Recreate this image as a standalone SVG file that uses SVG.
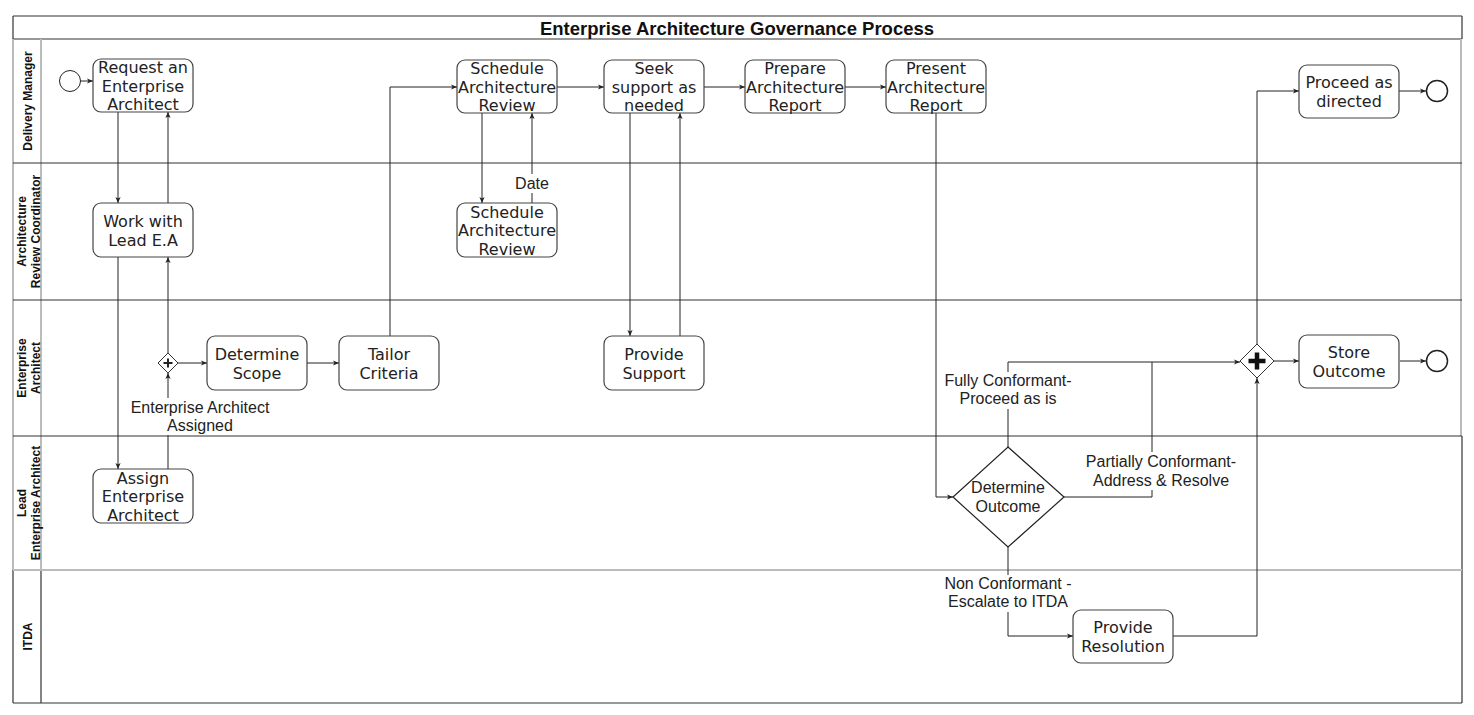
<svg xmlns="http://www.w3.org/2000/svg" width="1474" height="715" viewBox="0 0 1474 715">
<style>
.box{fill:#fff;stroke:#444;stroke-width:1.2}
.t{font-family:"DejaVu Sans",sans-serif;font-size:16px;fill:#222;text-anchor:middle}
.l{font-family:"Liberation Sans",Arial,sans-serif;font-size:16px;fill:#222;text-anchor:middle}
.lane{font-family:"Liberation Sans",Arial,sans-serif;font-weight:bold;font-size:12px;text-anchor:middle;fill:#111}
.title{font-family:"Liberation Sans",Arial,sans-serif;font-weight:bold;font-size:18.5px;text-anchor:middle;fill:#111}
.c{fill:none;stroke:#222;stroke-width:1}
.bg{fill:#fff;stroke:none}
.ln{stroke:#333;stroke-width:1.2;fill:none}
.lg{stroke:#bbb;stroke-width:2;fill:none}
.ev{fill:#fff;stroke:#222;stroke-width:1.5}
.gw{fill:#fff;stroke:#333;stroke-width:1}
</style>
<defs>
<marker id="a" markerUnits="userSpaceOnUse" markerWidth="8" markerHeight="8" refX="6" refY="3" orient="auto">
<path d="M0,0.4 L6,3 L0,5.6 L1.5,3 z" fill="#222"/>
</marker>
</defs>
<rect width="1474" height="715" fill="#fff"/>
<g id="pool">
<line class="ln" x1="13" y1="16" x2="1462" y2="16"/>
<line class="ln" x1="13" y1="39" x2="1462" y2="39"/>
<line class="ln" x1="13" y1="16" x2="13" y2="39"/>
<line class="ln" x1="1462" y1="16" x2="1462" y2="39"/>
<line class="lg" x1="13" y1="39" x2="13" y2="570"/>
<line class="ln" x1="13" y1="570" x2="13" y2="703"/>
<line class="lg" x1="41" y1="39" x2="41" y2="570"/>
<line class="ln" x1="41" y1="570" x2="41" y2="703"/>
<line class="lg" x1="1461" y1="39" x2="1461" y2="436"/>
<line class="ln" x1="1462" y1="436" x2="1462" y2="703"/>
<line class="ln" x1="13" y1="163" x2="1462" y2="163"/>
<line class="ln" x1="13" y1="300" x2="1462" y2="300"/>
<line class="ln" x1="13" y1="436" x2="1462" y2="436"/>
<line class="lg" x1="13" y1="570" x2="1462" y2="570"/>
<line class="ln" x1="13" y1="703" x2="1462" y2="703"/>
<text class="title" x="737" y="35">Enterprise Architecture Governance Process</text>
<text class="lane" transform="translate(32,101) rotate(-90)">Delivery Manager</text>
<text class="lane" transform="translate(26,231.5) rotate(-90)">Architecture</text>
<text class="lane" transform="translate(39.5,231.5) rotate(-90)">Review Coordinator</text>
<text class="lane" transform="translate(26,368) rotate(-90)">Enterprise</text>
<text class="lane" transform="translate(39.5,368) rotate(-90)">Architect</text>
<text class="lane" transform="translate(26,503) rotate(-90)">Lead</text>
<text class="lane" transform="translate(39.5,503) rotate(-90)">Enterprise Architect</text>
<text class="lane" transform="translate(32,636.5) rotate(-90)">ITDA</text>
</g>
<g id="connectors">
<path class="c" d="M80.5,81 H93" marker-end="url(#a)"/>
<path class="c" d="M118,112 V203" marker-end="url(#a)"/>
<path class="c" d="M168,203 V112" marker-end="url(#a)"/>
<path class="c" d="M118,257 V469" marker-end="url(#a)"/>
<path class="c" d="M168,469 V373" marker-end="url(#a)"/>
<path class="c" d="M168,353 V257" marker-end="url(#a)"/>
<path class="c" d="M178,363 H207" marker-end="url(#a)"/>
<path class="c" d="M307,363 H339" marker-end="url(#a)"/>
<path class="c" d="M390,336 V87 H457" marker-end="url(#a)"/>
<path class="c" d="M557,87 H604" marker-end="url(#a)"/>
<path class="c" d="M482,113 V203" marker-end="url(#a)"/>
<path class="c" d="M532,203 V113" marker-end="url(#a)"/>
<path class="c" d="M704,87 H745" marker-end="url(#a)"/>
<path class="c" d="M845,87 H886" marker-end="url(#a)"/>
<path class="c" d="M630,113 V336" marker-end="url(#a)"/>
<path class="c" d="M680,336 V113" marker-end="url(#a)"/>
<path class="c" d="M936,113 V497 H953" marker-end="url(#a)"/>
<path class="c" d="M1008,447 V362 H1240" marker-end="url(#a)"/>
<path class="c" d="M1064,497 H1152 V362"/>
<path class="c" d="M1008,547 V636 H1073" marker-end="url(#a)"/>
<path class="c" d="M1173,636 H1257 V378" marker-end="url(#a)"/>
<path class="c" d="M1257,344 V91 H1299" marker-end="url(#a)"/>
<path class="c" d="M1399,91 H1426" marker-end="url(#a)"/>
<path class="c" d="M1274,361 H1299" marker-end="url(#a)"/>
<path class="c" d="M1400,361 H1426" marker-end="url(#a)"/>
<rect class="bg" x="516" y="174" width="32" height="19"/>
<text class="l" x="532" y="189">Date</text>
<rect class="bg" x="128" y="398" width="144" height="37"/>
<text class="l" x="200" y="413">Enterprise Architect</text>
<text class="l" x="200" y="431">Assigned</text>
<rect class="bg" x="944" y="372" width="130" height="37"/>
<text class="l" x="1008" y="386">Fully Conformant-</text>
<text class="l" x="1008" y="404">Proceed as is</text>
<rect class="bg" x="1086" y="452" width="152" height="38"/>
<text class="l" x="1161" y="467">Partially Conformant-</text>
<text class="l" x="1161" y="486">Address &amp; Resolve</text>
<rect class="bg" x="944" y="575" width="130" height="37"/>
<text class="l" x="1008" y="589">Non Conformant -</text>
<text class="l" x="1008" y="607">Escalate to ITDA</text>
</g>
<g id="start"><circle class="ev" cx="70" cy="81" r="10.5" style="stroke-width:1"/></g>
<g id="request"><rect class="box" x="93" y="59" width="100" height="53" rx="8"/>
<text class="t" x="143" y="73">Request an</text><text class="t" x="143" y="91.5">Enterprise</text><text class="t" x="143" y="110">Architect</text></g>
<g id="workwith"><rect class="box" x="93" y="203" width="100" height="54" rx="8"/>
<text class="t" x="143" y="227">Work with</text><text class="t" x="143" y="245.5">Lead E.A</text></g>
<g id="assign"><rect class="box" x="93" y="469" width="100" height="54" rx="8"/>
<text class="t" x="143" y="483.5">Assign</text><text class="t" x="143" y="502">Enterprise</text><text class="t" x="143" y="520.5">Architect</text></g>
<g id="gateway1"><path class="gw" d="M168,353 L178,363 L168,373 L158,363 Z"/>
<path d="M168,358.5 V367.5 M163.5,363 H172.5" stroke="#222" stroke-width="2"/></g>
<g id="scope"><rect class="box" x="207" y="336" width="100" height="54" rx="8"/>
<text class="t" x="257" y="360">Determine</text><text class="t" x="257" y="378.5">Scope</text></g>
<g id="tailor"><rect class="box" x="339" y="336" width="100" height="54" rx="8"/>
<text class="t" x="389" y="360">Tailor</text><text class="t" x="389" y="378.5">Criteria</text></g>
<g id="schedule1"><rect class="box" x="457" y="60" width="100" height="53" rx="8"/>
<text class="t" x="507" y="74">Schedule</text><text class="t" x="507" y="92.5">Architecture</text><text class="t" x="507" y="111">Review</text></g>
<g id="schedule2"><rect class="box" x="457" y="203" width="100" height="54" rx="8"/>
<text class="t" x="507" y="217.5">Schedule</text><text class="t" x="507" y="236">Architecture</text><text class="t" x="507" y="254.5">Review</text></g>
<g id="seek"><rect class="box" x="604" y="60" width="100" height="53" rx="8"/>
<text class="t" x="654" y="74">Seek</text><text class="t" x="654" y="92.5">support as</text><text class="t" x="654" y="111">needed</text></g>
<g id="prepare"><rect class="box" x="745" y="60" width="100" height="53" rx="8"/>
<text class="t" x="795" y="74">Prepare</text><text class="t" x="795" y="92.5">Architecture</text><text class="t" x="795" y="111">Report</text></g>
<g id="present"><rect class="box" x="886" y="60" width="100" height="53" rx="8"/>
<text class="t" x="936" y="74">Present</text><text class="t" x="936" y="92.5">Architecture</text><text class="t" x="936" y="111">Report</text></g>
<g id="support"><rect class="box" x="604" y="336" width="100" height="54" rx="8"/>
<text class="t" x="654" y="360">Provide</text><text class="t" x="654" y="378.5">Support</text></g>
<g id="outcome"><path class="box" d="M1008,447 L1064,497 L1008,547 L953,497 Z" style="stroke:#222"/>
<text class="l" x="1008" y="493">Determine</text><text class="l" x="1008" y="512">Outcome</text></g>
<g id="resolution"><rect class="box" x="1073" y="610" width="100" height="53" rx="8"/>
<text class="t" x="1123" y="633">Provide</text><text class="t" x="1123" y="651.5">Resolution</text></g>
<g id="gateway2"><path class="gw" d="M1257,344 L1274,361 L1257,378 L1240,361 Z"/>
<path d="M1257,352.5 V369.5 M1248.5,361 H1265.5" stroke="#111" stroke-width="4.5"/></g>
<g id="proceed"><rect class="box" x="1299" y="65" width="100" height="53" rx="8"/>
<text class="t" x="1349" y="88">Proceed as</text><text class="t" x="1349" y="106.5">directed</text></g>
<g id="end1"><circle class="ev" cx="1437" cy="91" r="10.5"/></g>
<g id="store"><rect class="box" x="1299" y="335" width="100" height="53" rx="8"/>
<text class="t" x="1349" y="358">Store</text><text class="t" x="1349" y="376.5">Outcome</text></g>
<g id="end2"><circle class="ev" cx="1437" cy="361" r="10.5"/></g>
</svg>
